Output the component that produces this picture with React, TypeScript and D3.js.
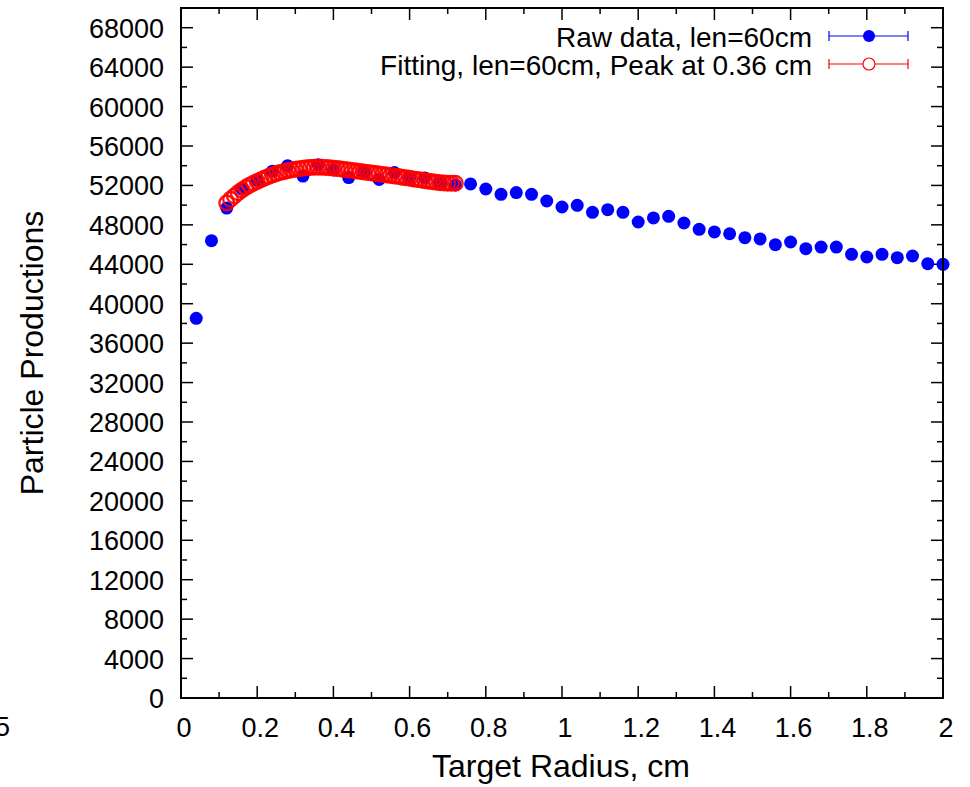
import React from "react";
import * as d3 from "d3";

const rawX = [0.04,0.08,0.12,0.16,0.20,0.24,0.28,0.32,0.36,0.40,0.44,0.48,0.52,0.56,0.60,0.64,0.68,0.72,0.76,0.80,0.84,0.88,0.92,0.96,1.00,1.04,1.08,1.12,1.16,1.20,1.24,1.28,1.32,1.36,1.40,1.44,1.48,1.52,1.56,1.60,1.64,1.68,1.72,1.76,1.80,1.84,1.88,1.92,1.96,2.00];
const rawY = [38520,46400,49700,51650,52500,53450,54000,52950,54100,53600,52800,53300,52600,53300,52800,52750,52250,52050,52150,51640,51100,51270,51100,50420,49810,49980,49270,49540,49270,48290,48700,48870,48190,47550,47280,47100,46700,46570,45990,46260,45580,45750,45750,45010,44740,45010,44670,44840,44060,44000];

const fitX = [0.12,0.13,0.14,0.15,0.16,0.17,0.18,0.19,0.20,0.21,0.22,0.23,0.24,0.25,0.26,0.27,0.28,0.29,0.30,0.31,0.32,0.33,0.34,0.35,0.36,0.37,0.38,0.39,0.40,0.41,0.42,0.43,0.44,0.45,0.46,0.47,0.48,0.49,0.50,0.51,0.52,0.53,0.54,0.55,0.56,0.57,0.58,0.59,0.60,0.61,0.62,0.63,0.64,0.65,0.66,0.67,0.68,0.69,0.70,0.71,0.72];
const fitY = [50220,50590,50930,51250,51540,51800,52030,52230,52400,52580,52750,52910,53050,53180,53300,53400,53490,53570,53640,53700,53750,53790,53820,53835,53840,53835,53815,53785,53745,53705,53660,53615,53570,53520,53470,53415,53365,53315,53265,53215,53165,53115,53065,53010,52960,52900,52840,52780,52720,52660,52600,52540,52480,52420,52370,52320,52280,52250,52230,52220,52220];

const xTicks = [0,0.2,0.4,0.6,0.8,1,1.2,1.4,1.6,1.8,2];
const xTickLabels = ["0","0.2","0.4","0.6","0.8","1","1.2","1.4","1.6","1.8","2"];
const yTicks = [0,4000,8000,12000,16000,20000,24000,28000,32000,36000,40000,44000,48000,52000,56000,60000,64000,68000];
const legendLabels = ["Raw data, len=60cm", "Fitting, len=60cm, Peak at 0.36 cm"];

const W = 970, H = 787;
const L = 181, R = 943, T = 8, B = 698;
const FONT = "'Liberation Sans', Arial, Helvetica, sans-serif";

export default function App() {
  const x = d3.scaleLinear().domain([0, 2]).range([L, R]);
  const y = d3.scaleLinear().domain([0, 70000]).range([B, T]);
  const xMinor = d3.range(0, 2.0001, 0.1);
  const yMinor = d3.range(0, 70001, 2000);
  const blue = "#0000ff";
  const red = "#ff0000";
  return (
    <svg width={W} height={H} style={{ position: "absolute", left: 0, top: 0, background: "#fff" }} fontFamily={FONT}>
      <rect x={0} y={0} width={W} height={H} fill="#fff" />
      {/* ticks */}
      <g stroke="#000" strokeWidth={1.5}>
        {xMinor.map((v, i) => {
          const major = Math.abs(v * 5 - Math.round(v * 5)) < 1e-6;
          const len = major ? 12 : 6;
          return (
            <g key={"xt" + i}>
              <line x1={x(v)} x2={x(v)} y1={B} y2={B - len} />
              <line x1={x(v)} x2={x(v)} y1={T} y2={T + len} />
            </g>
          );
        })}
        {yMinor.map((v, i) => {
          const major = v % 4000 === 0;
          const len = major ? 12 : 6;
          return (
            <g key={"yt" + i}>
              <line x1={L} x2={L + len} y1={y(v)} y2={y(v)} />
              <line x1={R} x2={R - len} y1={y(v)} y2={y(v)} />
            </g>
          );
        })}
      </g>
      {/* raw data */}
      <g>
        {rawX.map((v, i) => (
          <circle key={"r" + i} cx={x(v)} cy={y(rawY[i])} r={6.5} fill={blue} />
        ))}
      </g>
      {/* fit */}
      <g>
        {fitX.map((v, i) => (
          <circle key={"f" + i} cx={x(v)} cy={y(fitY[i])} r={7.3} fill="none" stroke={red} strokeWidth={2.4} strokeOpacity={0.9} />
        ))}
      </g>
      {/* frame */}
      <rect x={L} y={T} width={R - L} height={B - T} fill="none" stroke="#000" strokeWidth={2} />
      {/* tick labels */}
      <g fontSize={27} fill="#000">
        {yTicks.map((v, i) => (
          <text key={"yl" + i} x={164} y={y(v) + 1} textAnchor="end" dominantBaseline="central">{String(v)}</text>
        ))}
        {xTicks.map((v, i) => (
          <text key={"xl" + i} x={x(v) + 3} y={737} textAnchor="middle">{xTickLabels[i]}</text>
        ))}
        <text x={10} y={736} textAnchor="end">5</text>
      </g>
      {/* axis titles */}
      <text x={561} y={777} textAnchor="middle" fontSize={32}>Target Radius, cm</text>
      <text transform={`translate(43,353) rotate(-90)`} textAnchor="middle" fontSize={32}>Particle Productions</text>
      {/* legend */}
      <g fontSize={28}>
        {[0, 1].map((k) => {
          const cy = k === 0 ? 36 : 64;
          const col = k === 0 ? blue : red;
          return (
            <g key={"lg" + k}>
              <text x={812} y={cy + 1} textAnchor="end" dominantBaseline="central">{legendLabels[k]}</text>
              <line x1={829} x2={908} y1={cy} y2={cy} stroke={col} strokeWidth={1.2} />
              <line x1={829} x2={829} y1={cy - 5} y2={cy + 5} stroke={col} strokeWidth={1.2} />
              <line x1={908} x2={908} y1={cy - 5} y2={cy + 5} stroke={col} strokeWidth={1.2} />
              {k === 0 ? (
                <circle cx={869} cy={cy} r={6} fill={blue} />
              ) : (
                <circle cx={869} cy={cy} r={6} fill="#fff" stroke={red} strokeWidth={1.2} />
              )}
            </g>
          );
        })}
      </g>
    </svg>
  );
}
